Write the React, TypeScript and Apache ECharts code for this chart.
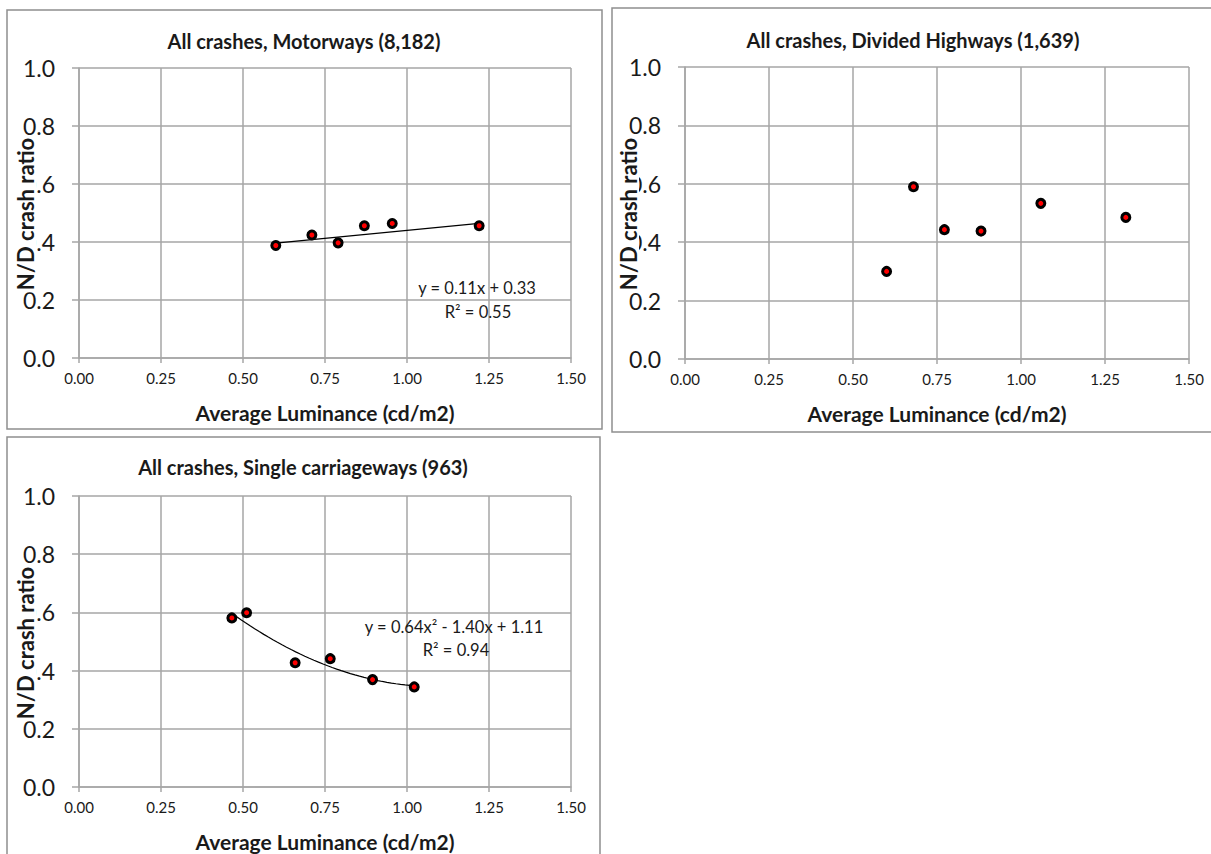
import React, { useEffect, useRef } from "react";
import * as echarts from "echarts";

// Average luminance (cd/m2) and night/day crash ratio per road type
const motorwayLum = [0.6, 0.71, 0.79, 0.87, 0.955, 1.22];
const motorwayRatio = [0.388, 0.424, 0.397, 0.456, 0.464, 0.456];

const dividedLum = [0.6, 0.68, 0.772, 0.881, 1.059, 1.312];
const dividedRatio = [0.3, 0.59, 0.443, 0.438, 0.533, 0.485];

const singleLum = [0.466, 0.511, 0.659, 0.766, 0.895, 1.022];
const singleRatio = [0.581, 0.599, 0.427, 0.441, 0.369, 0.344];

// Trend line coefficients, lowest power first
const motorwayFit = [0.33, 0.11];
const singleFit = [1.11, -1.4, 0.64];

const titles = [
  "All crashes, Motorways (8,182)",
  "All crashes, Divided Highways (1,639)",
  "All crashes, Single carriageways (963)",
];
const motorwayEq = ["y = 0.11x + 0.33", "R² = 0.55"];
const singleEq = ["y = 0.64x² - 1.40x + 1.11", "R² = 0.94"];

const xTitle = "Average Luminance (cd/m2)";
const yTitle = "N/D crash ratio";

const FONT = "Lato";
const GRID_COLOR = "#a6a6a6";
const TEXT_COLOR = "#1a1a1a";

const polyAt = (c: number[], x: number) =>
  c.reduce((acc, k, i) => acc + k * Math.pow(x, i), 0);

const trendPoints = (c: number[], xs: number[], steps: number) => {
  const lo = Math.min(...xs);
  const hi = Math.max(...xs);
  const pts: number[][] = [];
  for (let i = 0; i <= steps; i++) {
    const x = lo + ((hi - lo) * i) / steps;
    pts.push([x, polyAt(c, x)]);
  }
  return pts;
};

const zip = (a: number[], b: number[]) => a.map((v, i) => [v, b[i]]);

const xAxisFor = (gridIndex: number) => ({
  gridIndex,
  type: "value",
  min: 0,
  max: 1.5,
  interval: 0.25,
  name: xTitle,
  nameLocation: "middle",
  nameGap: 44,
  nameMoveOverlap: false,
  nameTextStyle: { fontFamily: FONT, fontWeight: "bold", fontSize: 21, color: TEXT_COLOR },
  axisLine: { show: true, onZero: false, lineStyle: { color: GRID_COLOR, width: 1.5 } },
  axisTick: { show: true, length: 5, lineStyle: { color: GRID_COLOR, width: 1.5 } },
  axisLabel: {
    formatter: (v: number) => v.toFixed(2),
    fontFamily: FONT,
    fontSize: 15,
    color: TEXT_COLOR,
    margin: 12,
    showMinLabel: true,
    showMaxLabel: true,
  },
  splitLine: { show: true, lineStyle: { color: GRID_COLOR, width: 1.5 } },
});

const yAxisFor = (gridIndex: number) => ({
  gridIndex,
  type: "value",
  min: 0,
  max: 1,
  interval: 0.2,
  axisLine: { show: true, lineStyle: { color: GRID_COLOR, width: 1.5 } },
  axisTick: { show: true, length: 7, lineStyle: { color: GRID_COLOR, width: 1.5 } },
  axisLabel: {
    formatter: (v: number) => v.toFixed(1),
    fontFamily: FONT,
    fontSize: 23,
    color: TEXT_COLOR,
    margin: 24,
  },
  splitLine: { show: true, lineStyle: { color: GRID_COLOR, width: 1.5 } },
});

const scatterFor = (idx: number, data: number[][]) => ({
  type: "scatter",
  xAxisIndex: idx,
  yAxisIndex: idx,
  data,
  symbol: "circle",
  symbolSize: 8,
  itemStyle: { color: "#ff0000", borderColor: "#000000", borderWidth: 3, opacity: 1 },
  z: 5,
});

const trendFor = (idx: number, data: number[][]) => ({
  type: "line",
  xAxisIndex: idx,
  yAxisIndex: idx,
  data,
  smooth: false,
  symbol: "none",
  showSymbol: false,
  lineStyle: { color: "#000000", width: 1.2 },
  z: 4,
});

const text = (x: number, y: number, t: string, size: number, bold = false) => ({
  type: "text",
  x,
  y,
  z: 10,
  style: {
    text: t,
    fontFamily: FONT,
    fontSize: size,
    fontWeight: bold ? "bold" : "normal",
    fill: TEXT_COLOR,
    align: "center",
    verticalAlign: "middle",
  },
});

// Rotated axis title on a white box, laid over the tick labels
const yName = (x: number, y: number) => ({
  type: "text",
  x,
  y,
  rotation: Math.PI / 2,
  z: 20,
  style: {
    text: yTitle,
    fontFamily: FONT,
    fontSize: 22,
    fontWeight: "bold",
    fill: TEXT_COLOR,
    align: "center",
    verticalAlign: "middle",
    backgroundColor: "#ffffff",
    padding: [0, 2],
  },
});

const panel = (x: number, y: number, w: number, h: number) => ({
  type: "rect",
  shape: { x, y, width: w, height: h },
  style: { fill: "none", stroke: "#8f8f8f", lineWidth: 1.5 },
  z: 0,
});

const option = {
  animation: false,
  backgroundColor: "#ffffff",
  textStyle: { fontFamily: FONT },
  grid: [
    { left: 79, top: 68, width: 492, height: 290 },
    { left: 685, top: 67, width: 504, height: 292 },
    { left: 79, top: 496, width: 492, height: 291 },
  ],
  xAxis: [xAxisFor(0), xAxisFor(1), xAxisFor(2)],
  yAxis: [yAxisFor(0), yAxisFor(1), yAxisFor(2)],
  series: [
    trendFor(0, trendPoints(motorwayFit, motorwayLum, 1)),
    scatterFor(0, zip(motorwayLum, motorwayRatio)),
    scatterFor(1, zip(dividedLum, dividedRatio)),
    trendFor(2, trendPoints(singleFit, singleLum, 40)),
    scatterFor(2, zip(singleLum, singleRatio)),
  ],
  graphic: [
    panel(7, 10, 595, 419),
    panel(612, 8, 610, 424),
    panel(7, 437, 593, 430),
    text(304, 41, titles[0], 20, true),
    text(913, 40, titles[1], 20, true),
    text(303, 467, titles[2], 20, true),
    text(477, 288, motorwayEq[0], 16.5),
    text(478, 312, motorwayEq[1], 16.5),
    text(454, 627, singleEq[0], 16.5),
    text(456, 650, singleEq[1], 16.5),
    yName(25, 214),
    yName(628, 214),
    yName(25, 643),
  ],
};

export default function App() {
  const ref = useRef<HTMLDivElement>(null);
  useEffect(() => {
    if (!ref.current) return;
    const chart = echarts.init(ref.current, null, { renderer: "svg" });
    chart.setOption(option as any);
    return () => chart.dispose();
  }, []);
  return (
    <div
      ref={ref}
      style={{ position: "fixed", left: 0, top: 0, width: 1211, height: 854, background: "#fff" }}
    />
  );
}
